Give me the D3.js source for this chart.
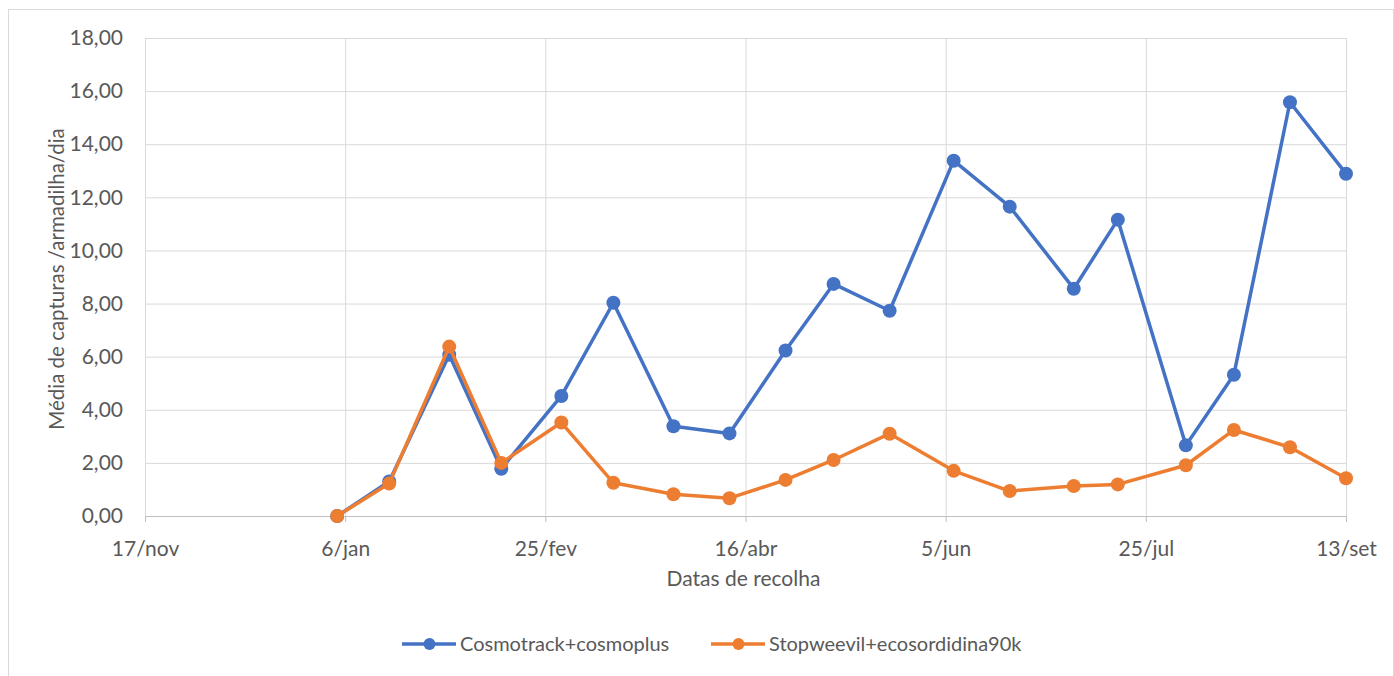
<!DOCTYPE html>
<html>
<head>
<meta charset="utf-8">
<script src="https://cdn.jsdelivr.net/npm/d3@7"></script>
<style>
  body { margin: 0; background: #fff; }
  text { font-family: Lato, "Open Sans", sans-serif; fill: #595959; }
</style>
</head>
<body>
<div id="wrapper"></div>
<script>
// collection dates and mean captures per trap per day
const datas = ["2021-01-04", "2021-01-17", "2021-02-01", "2021-02-14", "2021-03-01", "2021-03-14",
  "2021-03-29", "2021-04-12", "2021-04-26", "2021-05-08", "2021-05-22", "2021-06-07",
  "2021-06-21", "2021-07-07", "2021-07-18", "2021-08-04", "2021-08-16", "2021-08-30", "2021-09-13"];
const cosmotrack = [0, 1.30, 6.07, 1.78, 4.52, 8.03, 3.38, 3.11, 6.23, 8.74, 7.73, 13.38,
  11.65, 8.56, 11.16, 2.66, 5.32, 15.58, 12.89];
const stopweevil = [0, 1.22, 6.38, 2.00, 3.52, 1.25, 0.82, 0.67, 1.36, 2.11, 3.10, 1.70,
  0.94, 1.13, 1.19, 1.91, 3.24, 2.59, 1.42];
const seriesNames = ["Cosmotrack+cosmoplus", "Stopweevil+ecosordidina90k"];
const xTickDates = ["2020-11-17", "2021-01-06", "2021-02-25", "2021-04-16", "2021-06-05", "2021-07-25", "2021-09-13"];
const meses = ["jan", "fev", "mar", "abr", "mai", "jun", "jul", "ago", "set", "out", "nov", "dez"];
const yTicks = [0, 2, 4, 6, 8, 10, 12, 14, 16, 18];

const W = 1394, H = 676;
const margin = {top: 38, right: 48, bottom: 160, left: 145};
const width = W - margin.left - margin.right;
const height = H - margin.top - margin.bottom;

const parse = d3.utcParse("%Y-%m-%d");
const colors = ["#4472C4", "#ED7D31"];
const fontSize = 21;

const svg = d3.select("#wrapper").append("svg")
  .attr("width", W)
  .attr("height", H);

// chart border
svg.append("rect")
  .attr("x", 8.5).attr("y", 9.5)
  .attr("width", W - 9).attr("height", H)
  .attr("fill", "none").attr("stroke", "#D9D9D9");

const g = svg.append("g")
  .attr("transform", `translate(${margin.left},${margin.top})`);

const xScale = d3.scaleUtc()
  .domain([parse(xTickDates[0]), parse(xTickDates[xTickDates.length - 1])])
  .range([0, width]);

const yScale = d3.scaleLinear()
  .domain([0, 18])
  .range([height, 0]);

const fmtNum = d => d3.format(".2f")(d).replace(".", ",");
const fmtDate = d => d.getUTCDate() + "/" + meses[d.getUTCMonth()];

// horizontal gridlines
g.append("g")
  .call(d3.axisLeft(yScale).tickValues(yTicks).tickSize(-width).tickFormat(""))
  .call(s => s.select(".domain").remove())
  .call(s => s.selectAll("line").attr("stroke", "#D9D9D9"));

// vertical gridlines
g.append("g")
  .attr("transform", `translate(0,${height})`)
  .call(d3.axisBottom(xScale).tickValues(xTickDates.map(parse)).tickSize(-height).tickFormat(""))
  .call(s => s.select(".domain").remove())
  .call(s => s.selectAll("line").attr("stroke", "#D9D9D9"));

// x axis
g.append("g")
  .attr("transform", `translate(0,${height})`)
  .call(d3.axisBottom(xScale).tickValues(xTickDates.map(parse)).tickSize(6).tickPadding(19).tickFormat(fmtDate))
  .call(s => s.select(".domain").attr("stroke", "#BFBFBF"))
  .call(s => s.selectAll("line").attr("stroke", "#BFBFBF"))
  .call(s => s.selectAll("text").attr("font-size", fontSize).attr("fill", "#595959"));

// y axis labels
g.append("g")
  .call(d3.axisLeft(yScale).tickValues(yTicks).tickSize(0).tickPadding(22).tickFormat(fmtNum))
  .call(s => s.select(".domain").remove())
  .call(s => s.selectAll("text").attr("font-size", fontSize).attr("fill", "#595959"));

// axis titles
svg.append("text")
  .attr("x", margin.left + width / 2 - 2)
  .attr("y", 586)
  .attr("text-anchor", "middle")
  .attr("font-size", fontSize)
  .text("Datas de recolha");

svg.append("text")
  .attr("transform", "translate(64,279) rotate(-90)")
  .attr("text-anchor", "middle")
  .attr("font-size", 20.5)
  .text("Média de capturas /armadilha/dia");

const series = [cosmotrack, stopweevil].map((vals, i) => ({
  name: seriesNames[i],
  color: colors[i],
  values: vals.map((v, j) => ({date: parse(datas[j]), value: v}))
}));

const line = d3.line()
  .x(d => xScale(d.date))
  .y(d => yScale(d.value));

series.forEach(s => {
  g.append("path")
    .datum(s.values)
    .attr("d", line)
    .attr("fill", "none")
    .attr("stroke", s.color)
    .attr("stroke-width", 3.5)
    .attr("stroke-linejoin", "round");
  g.selectAll(null)
    .data(s.values)
    .join("circle")
    .attr("cx", d => xScale(d.date))
    .attr("cy", d => yScale(d.value))
    .attr("r", 7)
    .attr("fill", s.color);
});

// legend
const legendPos = [402, 711];
const legend = svg.append("g").attr("transform", "translate(0,644)");
series.forEach((s, i) => {
  const lg = legend.append("g").attr("transform", `translate(${legendPos[i]},0)`);
  lg.append("line").attr("x1", 0).attr("x2", 54).attr("stroke", s.color).attr("stroke-width", 3.5);
  lg.append("circle").attr("cx", 27.5).attr("r", 6).attr("fill", s.color);
  lg.append("text").attr("x", 58).attr("dy", "0.35em").attr("font-size", 20).text(s.name);
});
</script>
</body>
</html>
